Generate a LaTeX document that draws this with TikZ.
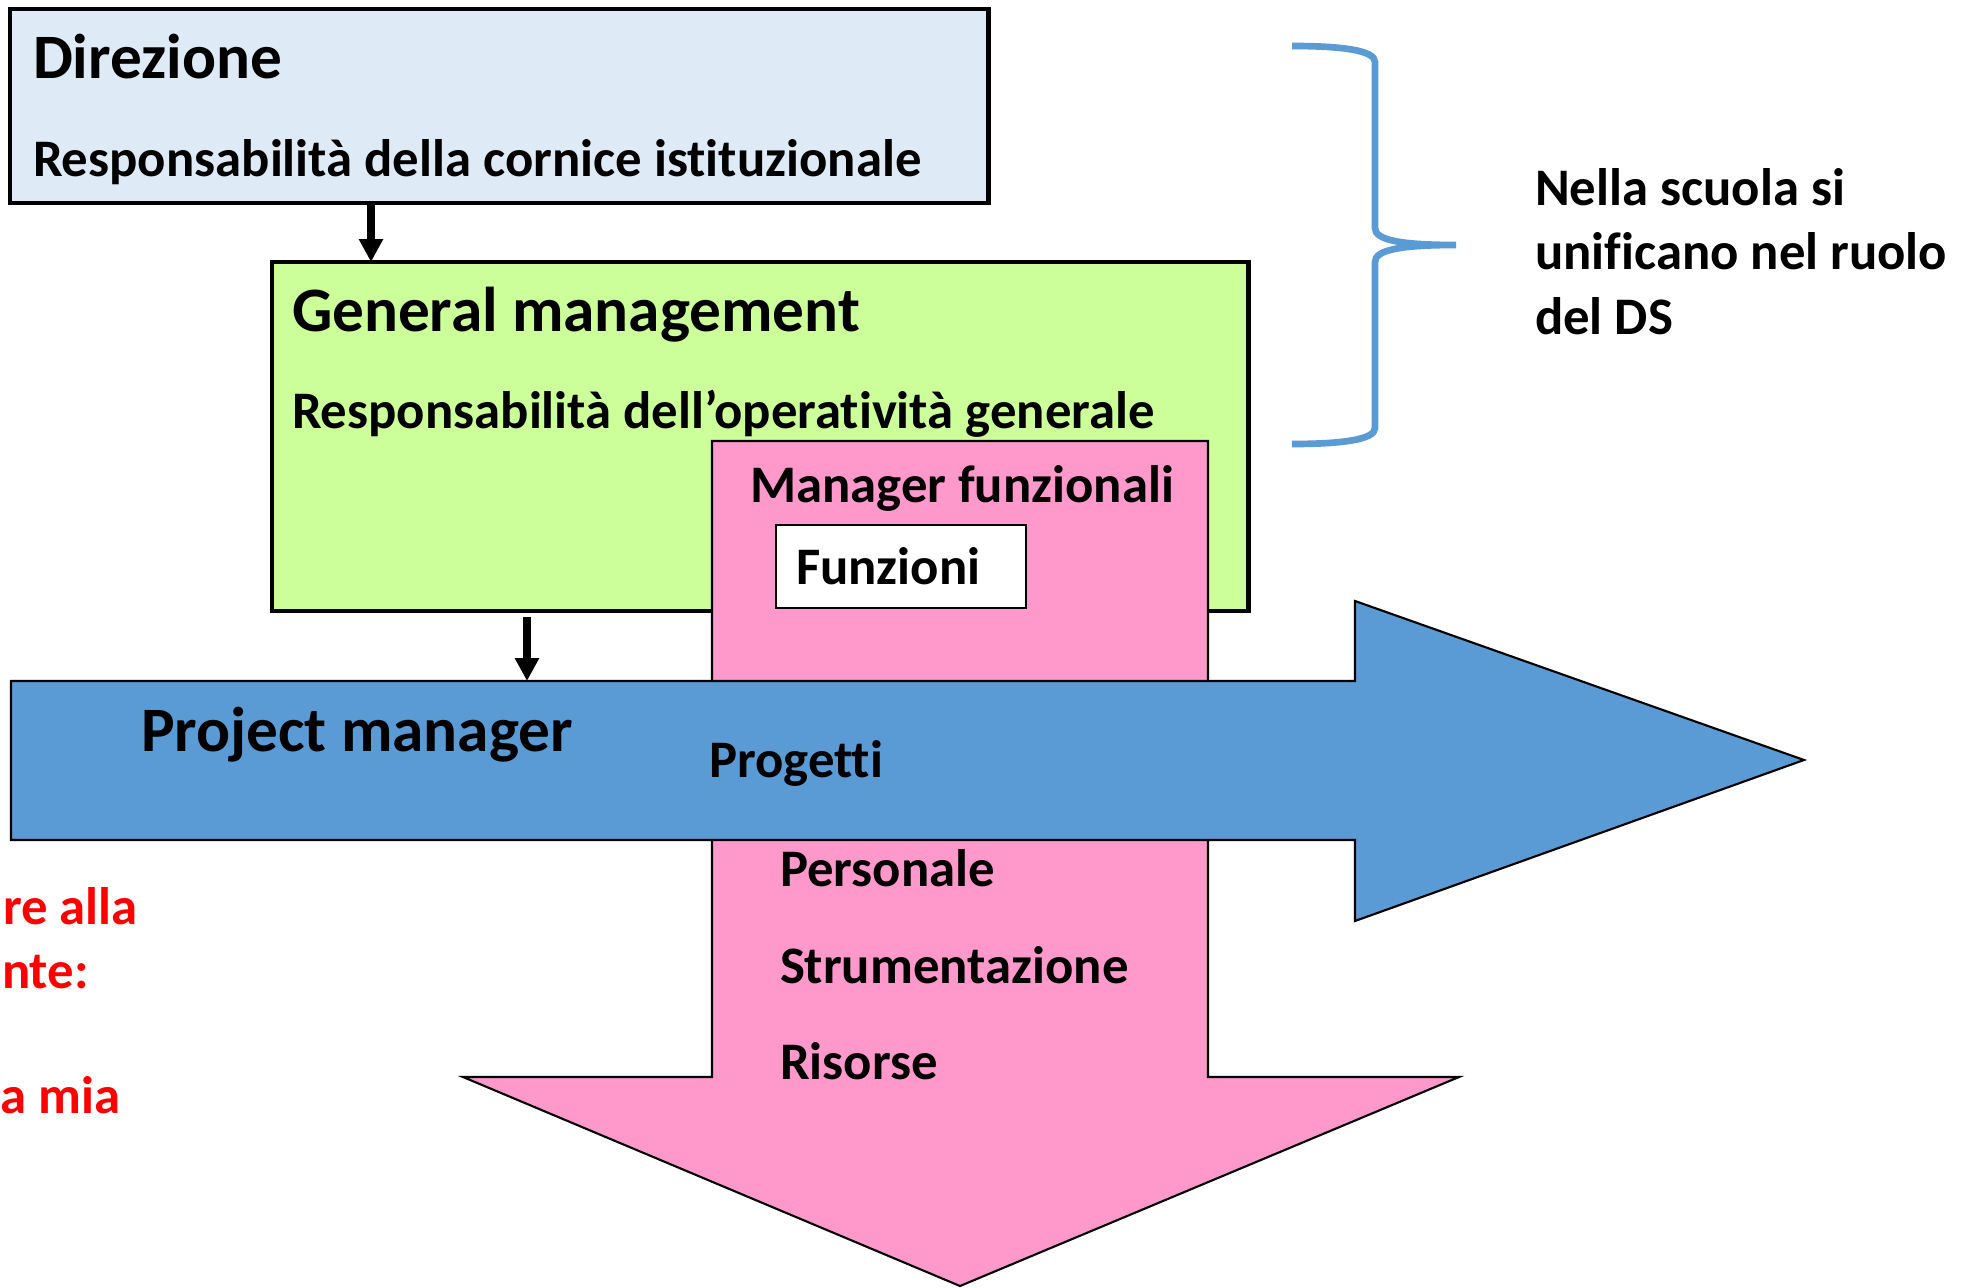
\documentclass[tikz,border=0pt]{standalone}
\usepackage{xcolor}
\usepackage{fontspec}
\setmainfont{Carlito}[Ligatures=NoCommon]
\usetikzlibrary{positioning,calc,arrows.meta}

\definecolor{dirblue}{RGB}{222,234,246}
\definecolor{gmgreen}{RGB}{204,255,153}
\definecolor{funpink}{RGB}{255,153,204}
\definecolor{pmblue}{RGB}{91,155,213}
\definecolor{notered}{RGB}{255,0,0}

\begin{document}
\begin{tikzpicture}[
    x=0.01cm, y=-0.01cm,
    outer sep=0pt,
    box/.style={draw, line width=1.2pt, rectangle, anchor=north west, inner sep=0pt},
    head/.style={anchor=base west, inner sep=0pt, font=\fontsize{18}{22}\selectfont\bfseries},
    txt/.style={anchor=base west, inner sep=0pt, font=\fontsize{15}{18.3}\selectfont\bfseries},
    conn/.style={-{Triangle[width=6.5pt,length=6.5pt]}, line width=2pt},
    bigarrow/.style={draw=black, line width=0.6pt}
]
    \useasboundingbox (0,0) rectangle (1963,1288);

    % Direzione
    \node [box, fill=dirblue, minimum width=9.78cm, minimum height=1.94cm] (dir) at (10,9) {};
    \node [head] (dirtitle) at ($(dir.north west)+(23,70)$) {Direzione};
    \node [txt] (dirsub) at ($(dir.north west)+(23,167)$) {Responsabilità della cornice istituzionale};

    % General management
    \node [box, fill=gmgreen, minimum width=9.76cm, minimum height=3.49cm] (gm) at (272,262) {};
    \draw [conn] ($(dir.south west)+(361,0)$) -- ($(gm.north west)+(99,0)$);
    \node [head] (gmtitle) at ($(gm.north west)+(20,69)$) {General management};
    \node [txt] (gmsub) at ($(gm.north west)+(20,167)$) {Responsabilità dell’operatività generale};

    % Manager funzionali (freccia verticale)
    \draw [bigarrow, fill=funpink] (712,441) -- (1208,441) -- (1208,1077) -- (1459,1077)
        -- (960,1286) -- (463,1077) -- (712,1077) -- cycle;
    \node [txt] (mf) at (750,502) {Manager funzionali};
    \node [box, line width=0.7pt, fill=white, minimum width=2.5cm, minimum height=0.83cm,
        inner xsep=0.2cm, align=left, text width=2.1cm,
        font=\fontsize{15}{18.3}\selectfont\bfseries] (fun) at (776,525) {Funzioni};

    % Project manager (freccia orizzontale)
    \draw [bigarrow, fill=pmblue] (11,681) -- (1355,681) -- (1355,601) -- (1804,760)
        -- (1355,921) -- (1355,840) -- (11,840) -- cycle;
    \coordinate (pmtop) at (527,681);
    \draw [conn] ($(gm.south west)+(255,6)$) -- (pmtop);
    \node [head] (pm) at (141,751) {Project manager};
    \node [txt] (prog) at (709,777) {Progetti};

    \node [txt] (pers) at (780,886) {Personale};
    \node [txt] (strum) at ($(pers.base west)+(0,97)$) {Strumentazione};
    \node [txt] (ris) at ($(strum.base west)+(0,96)$) {Risorse};

    % parentesi graffa
    \draw [pmblue, line width=1.9pt]
        (1292,46) .. controls (1340,46) and (1375,50) .. (1375,62) -- (1375,228)
        .. controls (1375,240) and (1400,245) .. (1456,245)
        .. controls (1400,245) and (1375,250) .. (1375,262) -- (1375,428)
        .. controls (1375,440) and (1340,444) .. (1292,444);
    \node [txt, align=left] (ds) at (1535,334) {Nella scuola si\\unificano nel ruolo\\del DS};

    % nota rossa
    \node [txt, text=notered] (n1) at (3,924) {re alla};
    \node [txt, text=notered] (n2) at (2,988) {nte:};
    \node [txt, text=notered] (n3) at (1,1113) {a mia};
\end{tikzpicture}
\end{document}
